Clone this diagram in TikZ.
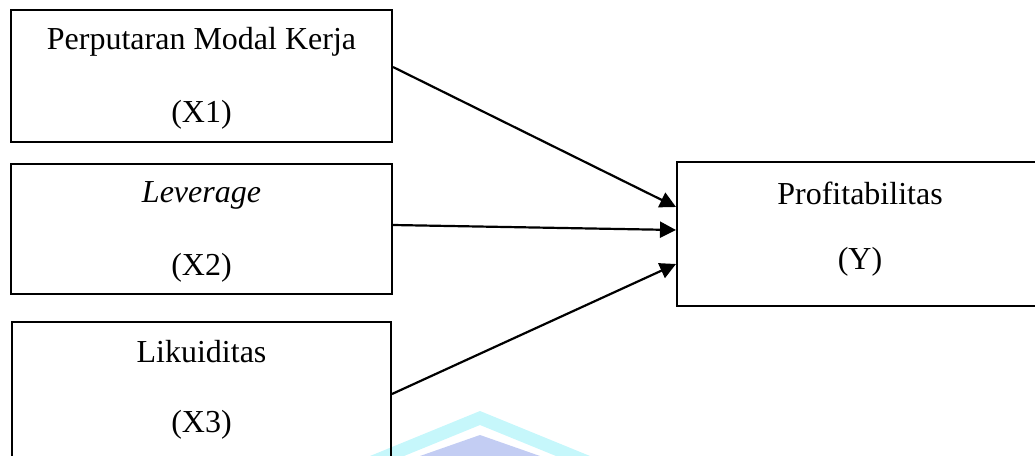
\documentclass[tikz,border=0pt]{standalone}
\usepackage{fontspec}
\setmainfont{Liberation Serif}
\usetikzlibrary{arrows.meta}
\definecolor{markcyan}{HTML}{C6F7FB}
\definecolor{markblue}{HTML}{C3CDF3}
\tikzset{
  varbox/.style={draw=black, line width=2pt, fill=none, rectangle, inner sep=0pt},
  lbl/.style={inner sep=0pt, font=\fontsize{32}{38}\selectfont},
  arr/.style={line width=2.2pt, -{Triangle[length=16pt,width=16pt]}},
}
\begin{document}
\begin{tikzpicture}[x=1pt, y=-1pt]
  \useasboundingbox (0,0) rectangle (1035,455);
  \clip (0,0) rectangle (1035,455);

  % faint chevron mark along the lower edge
  \fill[markcyan] (480,411) -- (590,456) -- (556,456) -- (480,425) -- (404,456) -- (370,456) -- cycle;
  \fill[markblue] (480,435) -- (540,456) -- (420,456) -- cycle;

  % variable boxes
  \node[varbox, minimum width=381pt, minimum height=132pt] (x1) at (201.5,76) {};
  \node[varbox, minimum width=381pt, minimum height=130pt] (x2) at (201.5,229) {};
  \node[varbox, minimum width=379pt, minimum height=150pt] (x3) at (201.5,397) {};
  \node[varbox, minimum width=378pt, minimum height=144pt] (y)  at (866,234) {};

  % box captions
  \node[lbl] (x1a) at (201.5,42)  {Perputaran Modal Kerja};
  \node[lbl] (x1b) at (201.5,115) {(X1)};
  \node[lbl] (x2a) at (201.5,195) {\itshape Leverage};
  \node[lbl] (x2b) at (201.5,268) {(X2)};
  \node[lbl] (x3a) at (201.5,352) {Likuiditas};
  \node[lbl] (x3b) at (201.5,425) {(X3)};
  \node[lbl] (ya)  at (860,193)   {Profitabilitas};
  \node[lbl] (yb)  at (860,262)   {(Y)};

  % influence arrows
  \draw[arr] (x1.east |- 0,67)  -- (y.west |- 0,207);
  \draw[arr] (x2.east |- 0,225) -- (y.west |- 0,230);
  \draw[arr] (x3.east |- 0,394) -- (y.west |- 0,264);
\end{tikzpicture}
\end{document}
